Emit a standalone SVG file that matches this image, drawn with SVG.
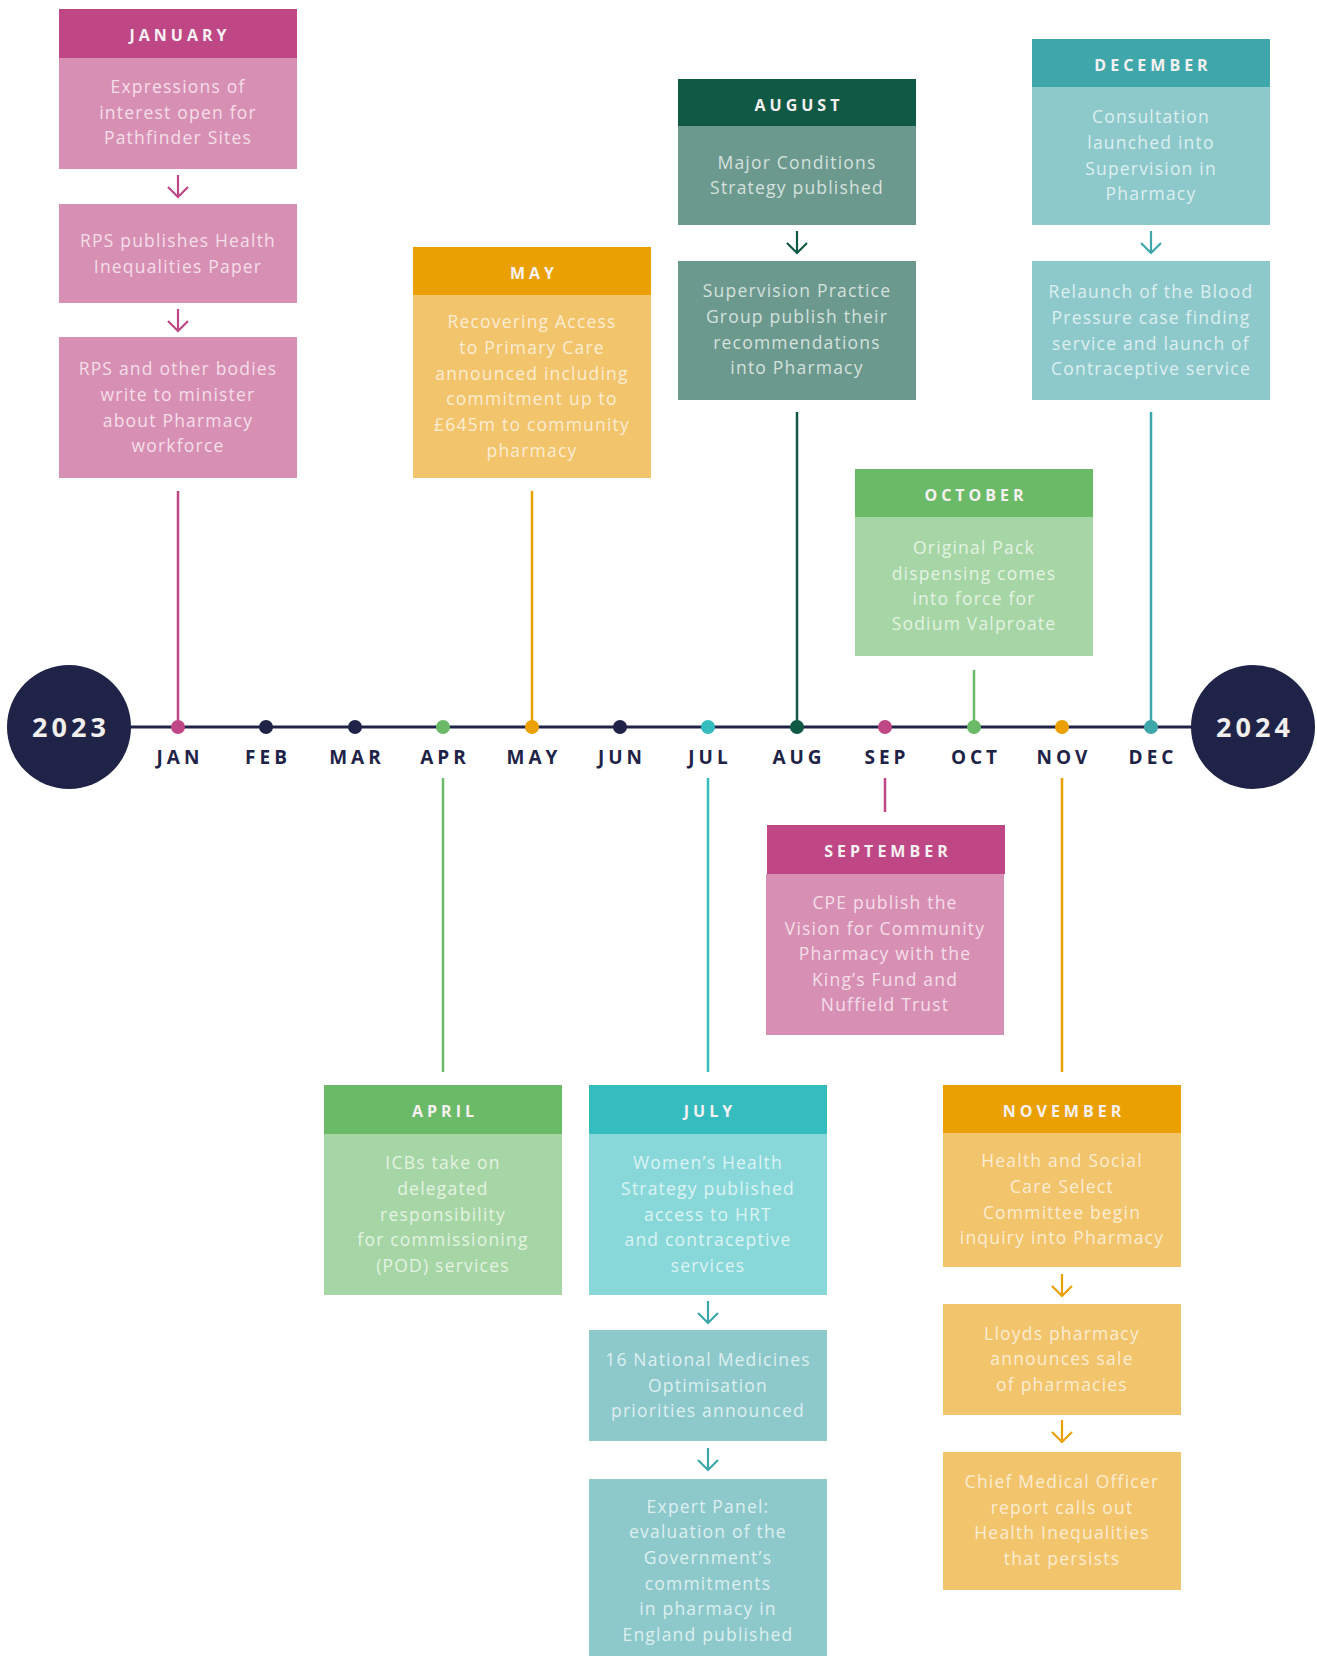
<svg xmlns="http://www.w3.org/2000/svg" xmlns:xlink="http://www.w3.org/1999/xlink" width="1317" height="1656" viewBox="0 0 1317 1656">
<style>
.hd{font-family:"Open Sans","Liberation Sans",sans-serif;font-weight:700;font-size:16px;letter-spacing:4px;fill:#f7f1f3;text-anchor:middle}
.bt{font-family:"Open Sans","Liberation Sans",sans-serif;font-size:17.5px;letter-spacing:1.2px;fill:#ffffff;fill-opacity:0.72;text-anchor:middle}
.mo{font-family:"Open Sans","Liberation Sans",sans-serif;font-weight:700;font-size:19px;letter-spacing:4px;fill:#1e2347;text-anchor:middle}
.yr{font-family:"Open Sans","Liberation Sans",sans-serif;font-weight:700;font-size:27px;letter-spacing:4px;fill:#f3eeee;text-anchor:middle}
.ln{stroke-width:2.5;fill:none}
.pk-h{fill:#bf4786}.pk-b{fill:#d88fb4}
.or-h{fill:#eba001}.or-b{fill:#f2c46b}
.dg-h{fill:#0f5945}.dg-b{fill:#6c998d}
.tl-h{fill:#3fa7aa}.tl-b{fill:#8dc9cb}
.gr-h{fill:#6aba68}.gr-b{fill:#a6d6a5}
.cy-h{fill:#35bcbf}.cy-b{fill:#89d8d9}
</style>
<defs>
<path id="arr" d="M0,0 V22 M-10,12 L0,22 L10,12" fill="none" stroke-width="2.2"/>
</defs>

<g id="connectors">
<line class="ln" x1="178" y1="491" x2="178" y2="727" stroke="#bf4786"/>
<line class="ln" x1="532" y1="491" x2="532" y2="727" stroke="#eba001"/>
<line class="ln" x1="797" y1="412" x2="797" y2="727" stroke="#0f5945"/>
<line class="ln" x1="1151" y1="412" x2="1151" y2="727" stroke="#3fa7aa"/>
<line class="ln" x1="974" y1="670" x2="974" y2="727" stroke="#6aba68"/>
<line class="ln" x1="443" y1="778" x2="443" y2="1072" stroke="#6aba68"/>
<line class="ln" x1="708" y1="778" x2="708" y2="1072" stroke="#35bcbf"/>
<line class="ln" x1="885" y1="778" x2="885" y2="812" stroke="#bf4786"/>
<line class="ln" x1="1062" y1="778" x2="1062" y2="1072" stroke="#eba001"/>
<use href="#arr" x="178" y="175" stroke="#bf4786"/>
<use href="#arr" x="178" y="309" stroke="#bf4786"/>
<use href="#arr" x="797" y="231" stroke="#0f5945"/>
<use href="#arr" x="1151" y="231" stroke="#3fa7aa"/>
<use href="#arr" x="708" y="1301" stroke="#3fa7aa"/>
<use href="#arr" x="708" y="1448" stroke="#3fa7aa"/>
<use href="#arr" x="1062" y="1274" stroke="#eba001"/>
<use href="#arr" x="1062" y="1420" stroke="#eba001"/>
</g>

<g id="timeline">
<line x1="100" y1="727" x2="1220" y2="727" stroke="#1e2347" stroke-width="3"/>
<circle cx="178" cy="727" r="7" fill="#bf4786"/>
<circle cx="266" cy="727" r="7" fill="#1e2347"/>
<circle cx="355" cy="727" r="7" fill="#1e2347"/>
<circle cx="443" cy="727" r="7" fill="#6aba68"/>
<circle cx="532" cy="727" r="7" fill="#eba001"/>
<circle cx="620" cy="727" r="7" fill="#1e2347"/>
<circle cx="708" cy="727" r="7" fill="#35bcbf"/>
<circle cx="797" cy="727" r="7" fill="#0f5945"/>
<circle cx="885" cy="727" r="7" fill="#bf4786"/>
<circle cx="974" cy="727" r="7" fill="#6aba68"/>
<circle cx="1062" cy="727" r="7" fill="#eba001"/>
<circle cx="1151" cy="727" r="7" fill="#3fa7aa"/>
<text class="mo" x="180" y="764">JAN</text>
<text class="mo" x="268" y="764">FEB</text>
<text class="mo" x="357" y="764">MAR</text>
<text class="mo" x="445" y="764">APR</text>
<text class="mo" x="534" y="764">MAY</text>
<text class="mo" x="622" y="764">JUN</text>
<text class="mo" x="710" y="764">JUL</text>
<text class="mo" x="799" y="764">AUG</text>
<text class="mo" x="887" y="764">SEP</text>
<text class="mo" x="976" y="764">OCT</text>
<text class="mo" x="1064" y="764">NOV</text>
<text class="mo" x="1153" y="764">DEC</text>
</g>

<g id="year-2023">
<circle cx="69" cy="727" r="62" fill="#1e2347"/>
<text class="yr" x="71" y="737">2023</text>
</g>
<g id="year-2024">
<circle cx="1253" cy="727" r="62" fill="#1e2347"/>
<text class="yr" x="1255" y="737">2024</text>
</g>

<g id="january">
<rect class="pk-h" x="59" y="9" width="238" height="49"/>
<rect class="pk-b" x="59" y="58" width="238" height="111"/>
<text class="hd" x="180" y="41">JANUARY</text>
<text class="bt" x="178" y="93">Expressions of</text>
<text class="bt" x="178" y="119">interest open for</text>
<text class="bt" x="178" y="144">Pathfinder Sites</text>
</g>
<g id="january-2">
<rect class="pk-b" x="59" y="204" width="238" height="99"/>
<text class="bt" x="178" y="247">RPS publishes Health</text>
<text class="bt" x="178" y="273">Inequalities Paper</text>
</g>
<g id="january-3">
<rect class="pk-b" x="59" y="337" width="238" height="141"/>
<text class="bt" x="178" y="375">RPS and other bodies</text>
<text class="bt" x="178" y="401">write to minister</text>
<text class="bt" x="178" y="427">about Pharmacy</text>
<text class="bt" x="178" y="452">workforce</text>
</g>

<g id="may">
<rect class="or-h" x="413" y="247" width="238" height="48"/>
<rect class="or-b" x="413" y="295" width="238" height="183"/>
<text class="hd" x="534" y="279">MAY</text>
<text class="bt" x="532" y="328">Recovering Access</text>
<text class="bt" x="532" y="354">to Primary Care</text>
<text class="bt" x="532" y="380">announced including</text>
<text class="bt" x="532" y="405">commitment up to</text>
<text class="bt" x="532" y="431">£645m to community</text>
<text class="bt" x="532" y="457">pharmacy</text>
</g>

<g id="august">
<rect class="dg-h" x="678" y="79" width="238" height="47"/>
<rect class="dg-b" x="678" y="126" width="238" height="99"/>
<text class="hd" x="799" y="111">AUGUST</text>
<text class="bt" x="797" y="169">Major Conditions</text>
<text class="bt" x="797" y="194">Strategy published</text>
</g>
<g id="august-2">
<rect class="dg-b" x="678" y="261" width="238" height="139"/>
<text class="bt" x="797" y="297">Supervision Practice</text>
<text class="bt" x="797" y="323">Group publish their</text>
<text class="bt" x="797" y="349">recommendations</text>
<text class="bt" x="797" y="374">into Pharmacy</text>
</g>

<g id="december">
<rect class="tl-h" x="1032" y="39" width="238" height="48"/>
<rect class="tl-b" x="1032" y="87" width="238" height="138"/>
<text class="hd" x="1153" y="71">DECEMBER</text>
<text class="bt" x="1151" y="123">Consultation</text>
<text class="bt" x="1151" y="149">launched into</text>
<text class="bt" x="1151" y="175">Supervision in</text>
<text class="bt" x="1151" y="200">Pharmacy</text>
</g>
<g id="december-2">
<rect class="tl-b" x="1032" y="261" width="238" height="139"/>
<text class="bt" x="1151" y="298">Relaunch of the Blood</text>
<text class="bt" x="1151" y="324">Pressure case finding</text>
<text class="bt" x="1151" y="350">service and launch of</text>
<text class="bt" x="1151" y="375">Contraceptive service</text>
</g>

<g id="october">
<rect class="gr-h" x="855" y="469" width="238" height="48"/>
<rect class="gr-b" x="855" y="517" width="238" height="139"/>
<text class="hd" x="976" y="501">OCTOBER</text>
<text class="bt" x="974" y="554">Original Pack</text>
<text class="bt" x="974" y="580">dispensing comes</text>
<text class="bt" x="974" y="605">into force for</text>
<text class="bt" x="974" y="630">Sodium Valproate</text>
</g>

<g id="september">
<rect class="pk-h" x="767" y="825" width="238" height="49"/>
<rect class="pk-b" x="766" y="874" width="238" height="161"/>
<text class="hd" x="888" y="857">SEPTEMBER</text>
<text class="bt" x="885" y="909">CPE publish the</text>
<text class="bt" x="885" y="935">Vision for Community</text>
<text class="bt" x="885" y="960">Pharmacy with the</text>
<text class="bt" x="885" y="986">King’s Fund and</text>
<text class="bt" x="885" y="1011">Nuffield Trust</text>
</g>

<g id="april">
<rect class="gr-h" x="324" y="1085" width="238" height="49"/>
<rect class="gr-b" x="324" y="1134" width="238" height="161"/>
<text class="hd" x="445" y="1117">APRIL</text>
<text class="bt" x="443" y="1169">ICBs take on</text>
<text class="bt" x="443" y="1195">delegated</text>
<text class="bt" x="443" y="1221">responsibility</text>
<text class="bt" x="443" y="1246">for commissioning</text>
<text class="bt" x="443" y="1272">(POD) services</text>
</g>

<g id="july">
<rect class="cy-h" x="589" y="1085" width="238" height="49"/>
<rect class="cy-b" x="589" y="1134" width="238" height="161"/>
<text class="hd" x="710" y="1117">JULY</text>
<text class="bt" x="708" y="1169">Women’s Health</text>
<text class="bt" x="708" y="1195">Strategy published</text>
<text class="bt" x="708" y="1221">access to HRT</text>
<text class="bt" x="708" y="1246">and contraceptive</text>
<text class="bt" x="708" y="1272">services</text>
</g>
<g id="july-2">
<rect class="tl-b" x="589" y="1330" width="238" height="111"/>
<text class="bt" x="708" y="1366">16 National Medicines</text>
<text class="bt" x="708" y="1392">Optimisation</text>
<text class="bt" x="708" y="1417">priorities announced</text>
</g>
<g id="july-3">
<rect class="tl-b" x="589" y="1479" width="238" height="177"/>
<text class="bt" x="708" y="1513">Expert Panel:</text>
<text class="bt" x="708" y="1538">evaluation of the</text>
<text class="bt" x="708" y="1564">Government’s</text>
<text class="bt" x="708" y="1590">commitments</text>
<text class="bt" x="708" y="1615">in pharmacy in</text>
<text class="bt" x="708" y="1641">England published</text>
</g>

<g id="november">
<rect class="or-h" x="943" y="1085" width="238" height="48"/>
<rect class="or-b" x="943" y="1133" width="238" height="134"/>
<text class="hd" x="1064" y="1117">NOVEMBER</text>
<text class="bt" x="1062" y="1167">Health and Social</text>
<text class="bt" x="1062" y="1193">Care Select</text>
<text class="bt" x="1062" y="1219">Committee begin</text>
<text class="bt" x="1062" y="1244">inquiry into Pharmacy</text>
</g>
<g id="november-2">
<rect class="or-b" x="943" y="1304" width="238" height="111"/>
<text class="bt" x="1062" y="1340">Lloyds pharmacy</text>
<text class="bt" x="1062" y="1365">announces sale</text>
<text class="bt" x="1062" y="1391">of pharmacies</text>
</g>
<g id="november-3">
<rect class="or-b" x="943" y="1452" width="238" height="138"/>
<text class="bt" x="1062" y="1488">Chief Medical Officer</text>
<text class="bt" x="1062" y="1514">report calls out</text>
<text class="bt" x="1062" y="1539">Health Inequalities</text>
<text class="bt" x="1062" y="1565">that persists</text>
</g>
</svg>
